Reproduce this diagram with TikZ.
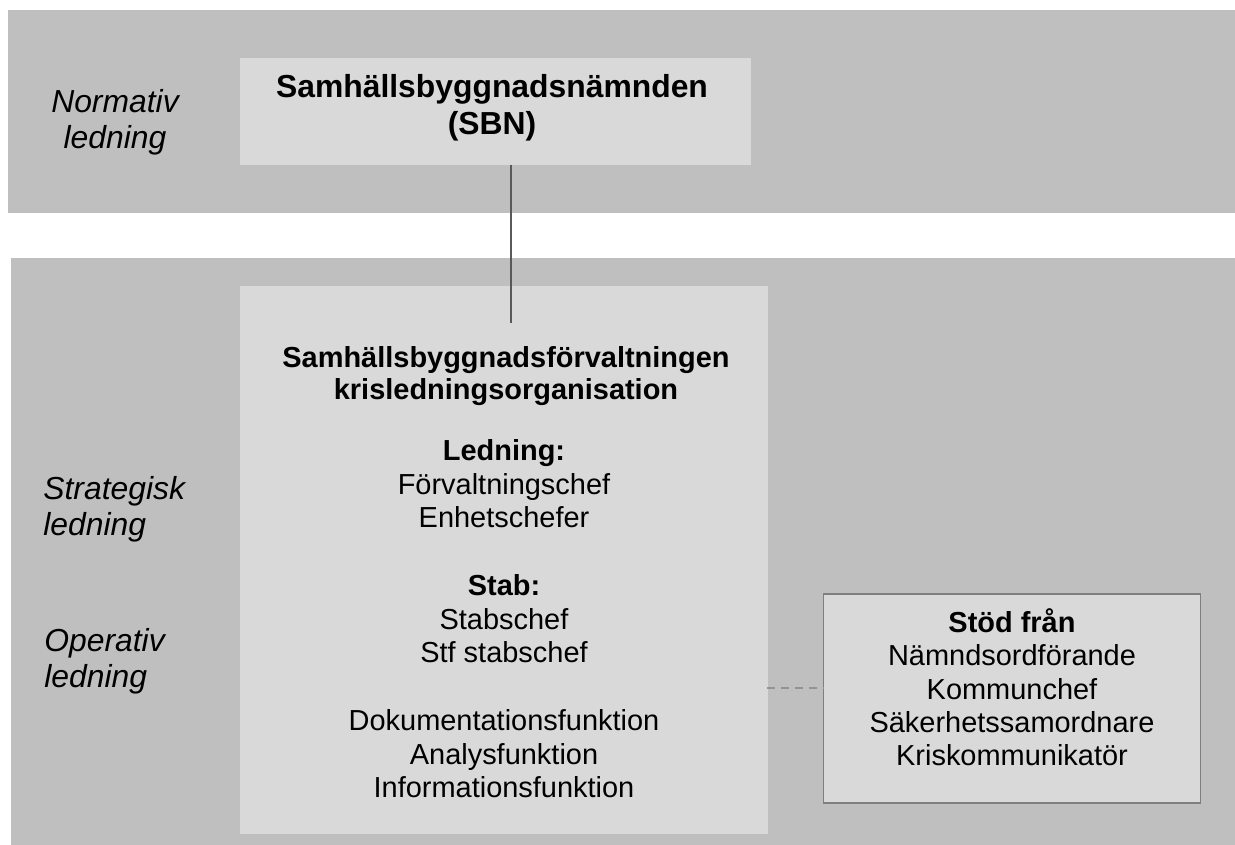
\documentclass[tikz,border=0pt]{standalone}
\usepackage{fontspec}
\setmainfont{Liberation Sans}
\usetikzlibrary{fit}
\definecolor{bandc}{HTML}{BFBFBF}
\definecolor{boxc}{HTML}{D9D9D9}
\definecolor{linec}{HTML}{595959}
\definecolor{dashc}{HTML}{939393}
\definecolor{borderc}{HTML}{7F7F7F}
\begin{document}
\begin{tikzpicture}[x=0.5526pt,y=-0.5526pt,
  bandbox/.style={fill=bandc, draw=none, inner sep=0pt, outer sep=0pt},
  panel/.style={fill=boxc, draw=none, inner sep=0pt, outer sep=0pt},
  framed/.style={fill=boxc, draw=borderc, line width=0.6pt, inner sep=0pt, outer sep=0pt},
  reg/.style={font=\fontsize{16}{18.4}\selectfont, anchor=base, inner sep=0pt},
  bld/.style={font=\fontsize{16}{18.4}\selectfont\bfseries, anchor=base, inner sep=0pt},
  big/.style={font=\fontsize{17.6}{20.3}\selectfont\bfseries, anchor=base, inner sep=0pt},
  lab/.style={font=\fontsize{17.6}{20.3}\selectfont\itshape, inner sep=0pt},
  solidline/.style={draw=linec, line width=1.1pt},
  dashline/.style={draw=dashc, line width=0.75pt, dash pattern=on 4.4pt off 3.3pt}]
\useasboundingbox (0,0) rectangle (1235,845);
\fill[white] (0,0) rectangle (1235,845);
% bands
\node[bandbox, fit={(8,10) (1235,212.7)}] (topband) {};
\node[bandbox, fit={(11,258) (1235,845)}] (botband) {};
% boxes
\node[panel, fit={(240,58.3) (751,164.7)}] (sbn) {};
\node[panel, fit={(240,286) (768,834)}] (main) {};
\node[framed, fit={(823.5,594) (1200.7,803)}] (stod) {};
% connectors
\coordinate (vend) at (511,323);
\draw[solidline] (sbn.south -| vend) -- (vend);
\coordinate (dstart) at (767,688);
\draw[dashline] (dstart) -- (dstart -| stod.west);
% left labels
\node[lab, anchor=base] (l1) at (115,112.7) {Normativ};
\node[lab, anchor=base] (l2) at (115,148.3) {ledning};
\node[lab, anchor=base west] (l3) at (43,499) {Strategisk};
\node[lab, anchor=base west] (l4) at (43,535) {ledning};
\node[lab, anchor=base west] (l5) at (44,651) {Operativ};
\node[lab, anchor=base west] (l6) at (44,687) {ledning};
% SBN text
\node[big] (s1) at (492,97.3) {Samhällsbyggnadsnämnden};
\node[big] (s2) at (492,134) {(SBN)};
% main text
\node[bld] (m1) at (506,367.3) {Samhällsbyggnadsförvaltningen};
\node[bld] (m2) at (506,399) {krisledningsorganisation};
\node[bld] (m3) at (504,460.7) {Ledning:};
\node[reg] (m4) at (504,494) {Förvaltningschef};
\node[reg] (m5) at (504,527.3) {Enhetschefer};
\node[bld] (m6) at (504,595) {Stab:};
\node[reg] (m7) at (504,629) {Stabschef};
\node[reg] (m8) at (504,662.3) {Stf stabschef};
\node[reg] (m9) at (504,730.7) {Dokumentationsfunktion};
\node[reg] (m10) at (504,764) {Analysfunktion};
\node[reg] (m11) at (504,797.7) {Informationsfunktion};
% right box text
\node[bld] (r1) at (1012,632) {Stöd från};
\node[reg] (r2) at (1012,665.7) {Nämndsordförande};
\node[reg] (r3) at (1012,699) {Kommunchef};
\node[reg] (r4) at (1012,732.3) {Säkerhetssamordnare};
\node[reg] (r5) at (1012,765.7) {Kriskommunikatör};
\end{tikzpicture}
\end{document}
